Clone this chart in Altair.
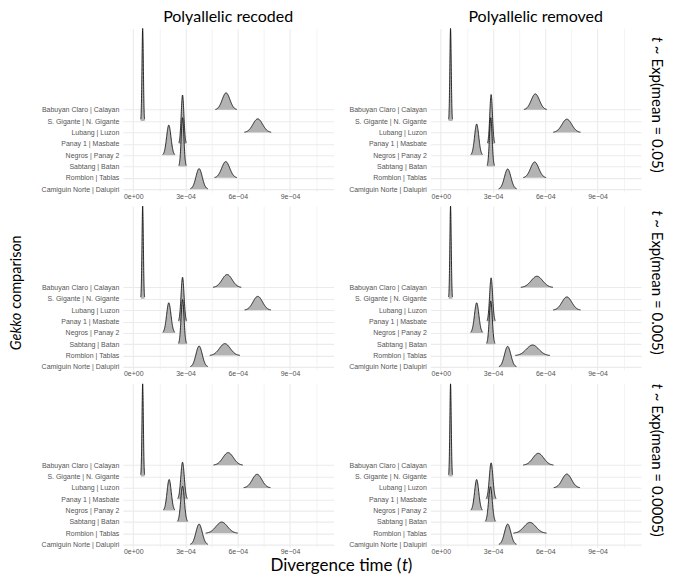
import altair as alt
import numpy as np
import pandas as pd

# ---------------- data ----------------
comparisons = ["Camiguin Norte | Dalupiri", "Romblon | Tablas", "Sabtang | Batan",
               "Negros | Panay 2", "Panay 1 | Masbate", "Lubang | Luzon",
               "S. Gigante | N. Gigante", "Babuyan Claro | Calayan"]
methods = ["Polyallelic recoded", "Polyallelic removed"]
prior_means = ["0.05", "0.005", "0.0005"]

# ridge peak locations (units of 1e-4), in comparison order
peaks_recoded_005 = [3.78, 5.31, 2.83, 2.04, 2.83, 7.15, 0.54, 5.33]
peaks_removed_005 = [3.84, 5.39, 2.87, 2.06, 2.89, 7.24, 0.56, 5.43]
peaks_recoded_0005 = [3.78, 5.26, 2.83, 2.04, 2.83, 7.15, 0.54, 5.39]
peaks_removed_0005 = [3.84, 5.27, 2.87, 2.06, 2.89, 7.24, 0.56, 5.52]
peaks_recoded_00005 = [3.78, 5.08, 2.83, 2.06, 2.83, 7.11, 0.54, 5.45]
peaks_removed_00005 = [3.84, 5.12, 2.85, 2.06, 2.89, 7.24, 0.56, 5.60]

# ridge heights (in units of ridge spacing)
heights_recoded_005 = [1.81, 1.43, 4.30, 2.65, 4.30, 1.20, 8.17, 1.49]
heights_removed_005 = [1.78, 1.40, 4.30, 2.74, 4.34, 1.17, 8.17, 1.40]
heights_recoded_0005 = [1.84, 1.05, 3.94, 2.65, 3.90, 1.22, 8.17, 1.14]
heights_removed_0005 = [1.81, 0.93, 3.80, 2.65, 3.85, 1.17, 8.17, 0.99]
heights_recoded_00005 = [1.81, 0.99, 3.15, 2.74, 3.27, 1.20, 8.17, 1.11]
heights_removed_00005 = [1.81, 0.96, 3.10, 2.74, 3.21, 1.22, 8.17, 1.05]

# ridge spreads (units of 1e-4)
spreads_recoded_005 = [0.18, 0.23, 0.077, 0.125, 0.077, 0.275, 0.04, 0.22]
spreads_removed_005 = [0.185, 0.235, 0.077, 0.12, 0.076, 0.28, 0.04, 0.235]
spreads_recoded_0005 = [0.18, 0.31, 0.084, 0.125, 0.085, 0.27, 0.04, 0.29]
spreads_removed_0005 = [0.18, 0.355, 0.087, 0.125, 0.086, 0.28, 0.04, 0.33]
spreads_recoded_00005 = [0.18, 0.33, 0.105, 0.12, 0.10, 0.275, 0.04, 0.30]
spreads_removed_00005 = [0.18, 0.34, 0.106, 0.12, 0.103, 0.27, 0.04, 0.31]

PEAKS = [[peaks_recoded_005, peaks_removed_005],
         [peaks_recoded_0005, peaks_removed_0005],
         [peaks_recoded_00005, peaks_removed_00005]]
HEIGHTS = [[heights_recoded_005, heights_removed_005],
           [heights_recoded_0005, heights_removed_0005],
           [heights_recoded_00005, heights_removed_00005]]
SPREADS = [[spreads_recoded_005, spreads_removed_005],
           [spreads_recoded_0005, spreads_removed_0005],
           [spreads_recoded_00005, spreads_removed_00005]]

# ---------------- build ridge table ----------------
recs = []
for r in range(3):
    for c in range(2):
        pk, ht, sd = PEAKS[r][c], HEIGHTS[r][c], SPREADS[r][c]
        for i, comp in enumerate(comparisons):
            xs = np.linspace(pk[i] - 2.8 * sd[i], pk[i] + 2.8 * sd[i], 81)
            dens = ht[i] * np.exp(-0.5 * ((xs - pk[i]) / sd[i]) ** 2)
            for j, (xv, dv) in enumerate(zip(xs, dens)):
                recs.append(dict(panel=f"{r}{c}", comp=comp, idx=i, j=j,
                                 x=float(xv) * 1e-4, top=i + float(dv), base=i))
df = pd.DataFrame(recs)

W, H = 211, 164
XDOM = [-0.6e-4, 11.5e-4]
YDOM = [-0.26, 14.17]
TITLE_FONT = "Lato"
LABEL_FONT = "Liberation Sans"
LABEL_COLOR = "#555555"
GRID = "#EBEBEB"

x_ticks = [0, 1.5e-4, 3e-4, 4.5e-4, 6e-4, 7.5e-4, 9e-4, 10.5e-4]
x_labels = ["0e+00", "3e\u221204", "6e\u221204", "9e\u221204"]
names_js = "[" + ",".join("'" + n + "'" for n in comparisons) + "]"
xlab_js = "[" + ",".join("'" + n + "'" for n in x_labels) + "]"

xaxis = alt.Axis(values=x_ticks, title=None, ticks=False, domain=False,
                 labelExpr=f"round(datum.value*1e5) % 30 == 0 ? {xlab_js}[round(datum.value*1e5)/30] : ''",
                 labelFontSize=7, labelColor=LABEL_COLOR, labelFont=LABEL_FONT, labelPadding=0,
                 grid=True, gridColor=GRID,
                 gridWidth={"condition": {"test": "round(datum.value*1e5) % 30 != 0", "value": 0.6}, "value": 1.1})
yaxis = alt.Axis(values=list(range(8)), title=None, ticks=False, domain=False,
                 labelExpr=f"{names_js}[datum.value]", labelFontSize=7, labelColor=LABEL_COLOR,
                 labelFont=LABEL_FONT, labelPadding=4, grid=True, gridColor=GRID, gridWidth=1.1)
xscale = alt.Scale(domain=XDOM, nice=False, zero=False)
yscale = alt.Scale(domain=YDOM, nice=False, zero=False)


def text_layer(txt, x, y, size=16, angle=0, align="center", baseline="alphabetic", style="normal"):
    return alt.Chart(pd.DataFrame({"lab": [txt]})).mark_text(
        font=TITLE_FONT, fontSize=size, angle=angle, align=align, baseline=baseline,
        fontStyle=style, color="black").encode(text="lab:N", x=alt.value(x), y=alt.value(y))


def panel(r, c):
    base = alt.Chart(df[df.panel == f"{r}{c}"])
    layers = []
    for i in reversed(range(8)):
        sub = base.transform_filter(alt.datum.idx == i)
        xe = alt.X("x:Q", scale=xscale, axis=xaxis)
        ye = alt.Y("top:Q", scale=yscale, axis=yaxis, stack=None)
        layers.append(sub.mark_area(fill="#B3B3B3", opacity=1, stroke=None).encode(x=xe, y=ye, y2="base:Q"))
        layers.append(sub.mark_line(color="black", strokeWidth=0.8).encode(x=xe, y=ye))
    if r == 0:
        layers.append(text_layer(methods[c], W / 2, -6))
    if c == 1:
        v = prior_means[r]
        L = 142 + 8.7 * (len(v) - 4)
        ys = H / 2 - 2 - L / 2 + 5
        layers.append(text_layer("t", W + 15.5, ys, size=15, angle=90, align="right",
                                 baseline="middle", style="italic"))
        layers.append(text_layer(f"~ Exp(mean = {v})", W + 15.5, ys + 3.5, size=15, angle=90,
                                 align="left", baseline="middle"))
    if c == 0 and r == 1:
        # whole title centred near y = 88 of this panel
        ysp = 88 + 55.5 - 36.7
        layers.append(text_layer("Gekko", -106.2, ysp, size=14.5, angle=270, align="right",
                                 baseline="middle", style="italic"))
        layers.append(text_layer("comparison", -106.2, ysp - 4, size=14.5, angle=270, align="left",
                                 baseline="middle"))
    if c == 0 and r == 2:
        xs = 279
        layers.append(text_layer("Divergence time (", xs, 187, size=17, align="right"))
        layers.append(text_layer("t", xs + 0.5, 187, size=17, align="left", style="italic"))
        layers.append(text_layer(")", xs + 6.3, 187, size=17, align="left"))
    return alt.layer(*layers).properties(width=W, height=H)


panels = [panel(r, c) for r in range(3) for c in range(2)]
chart = alt.concat(*panels, columns=2, spacing={"row": 14, "column": 97}, bounds="flush").properties(
    padding={"left": 0, "top": 1, "right": 1, "bottom": 0}, background="white"
).configure_view(stroke=None)

chart.save("out.html", embed_options={"renderer": "svg", "actions": False})
